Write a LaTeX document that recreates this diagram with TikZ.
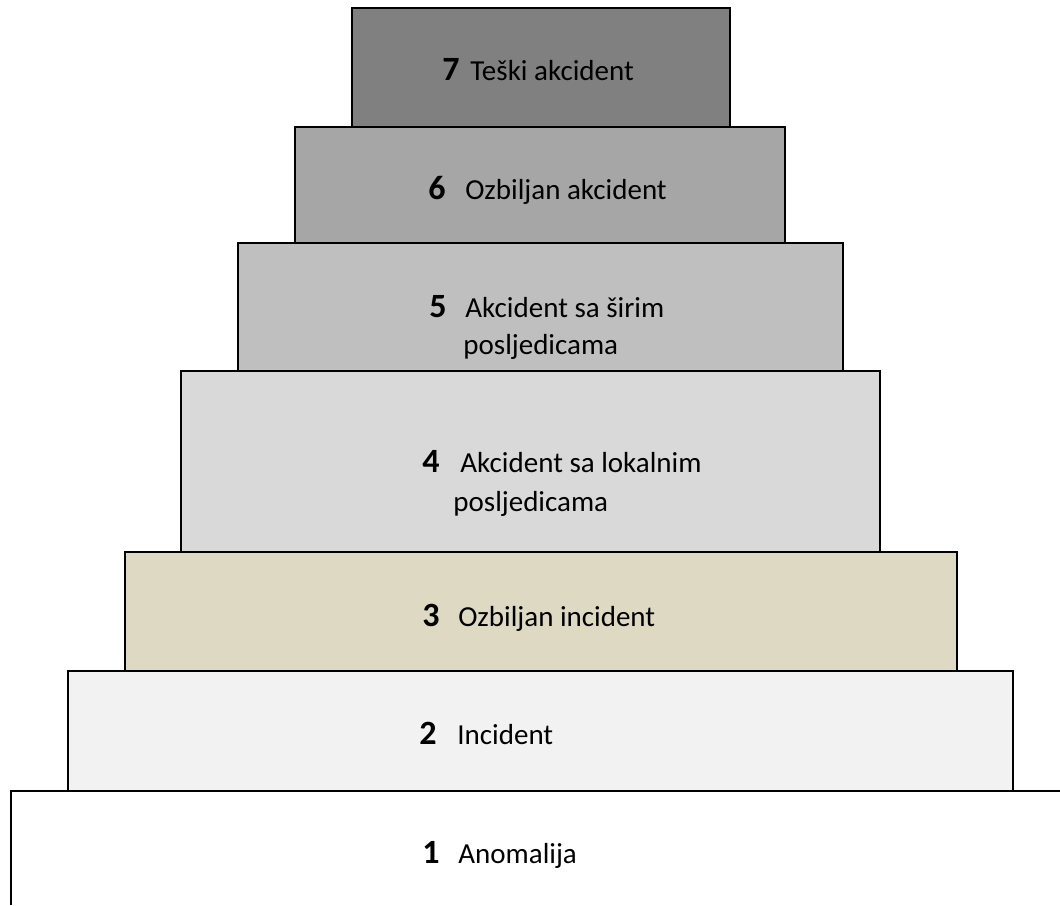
\documentclass[tikz,border=0pt]{standalone}
\usepackage{fontspec}
\setmainfont{Carlito}
\usetikzlibrary{positioning}
\definecolor{tierseven}{HTML}{808080}
\definecolor{tiersix}{HTML}{A6A6A6}
\definecolor{tierfive}{HTML}{BFBFBF}
\definecolor{tierfour}{HTML}{D9D9D9}
\definecolor{tierthree}{HTML}{DDD9C3}
\definecolor{tiertwo}{HTML}{F2F2F2}

\begin{document}
\begin{tikzpicture}[x=0.5pt, y=-0.5pt,
		tier/.style={draw=black, line width=0.85pt},
		num/.style={font=\bfseries\fontsize{17}{19}\selectfont, anchor=base west, inner sep=0pt},
		lbl/.style={font=\fontsize{14.5}{18.5}\selectfont, anchor=base west, inner sep=0pt}]
		\useasboundingbox (0,0) rectangle (1060,905);
		%levels, bottom to top
		\draw[tier] (11,905) -- (11,791) -- (1060,791);
		\filldraw[tier, fill=tiertwo] (68,671) rectangle (1013,791);
		\filldraw[tier, fill=tierthree] (125,552) rectangle (957,671);
		\filldraw[tier, fill=tierfour] (181,371) rectangle (880,552);
		\filldraw[tier, fill=tierfive] (238,243) rectangle (843,371);
		\filldraw[tier, fill=tiersix] (295,127) rectangle (785,243);
		\filldraw[tier, fill=tierseven] (352,8) rectangle (730,127);

		%labels
		\node[num] (n1) at (422,863) {1};
		\node[lbl] (t1) at (458,863) {Anomalija};
		\node[num] (n2) at (419,744) {2};
		\node[lbl] (t2) at (457,744) {Incident};
		\node[num] (n3) at (422,626) {3};
		\node[lbl] (t3) at (458,626) {Ozbiljan incident};
		\node[num] (n4) at (422,472) {4};
		\node[lbl] (t4) at (460,472) {Akcident sa lokalnim};
		\node[lbl] (t4b) at (453,511) {posljedicama};
		\node[num] (n5) at (429,317) {5};
		\node[lbl] (t5) at (465,317) {Akcident sa širim};
		\node[lbl] (t5b) at (463,354) {posljedicama};
		\node[num] (n6) at (428,199) {6};
		\node[lbl] (t6) at (465,199) {Ozbiljan akcident};
		\node[num] (n7) at (442,80) {7};
		\node[lbl] (t7) at (470,80) {Teški akcident};
\end{tikzpicture}
\end{document}
